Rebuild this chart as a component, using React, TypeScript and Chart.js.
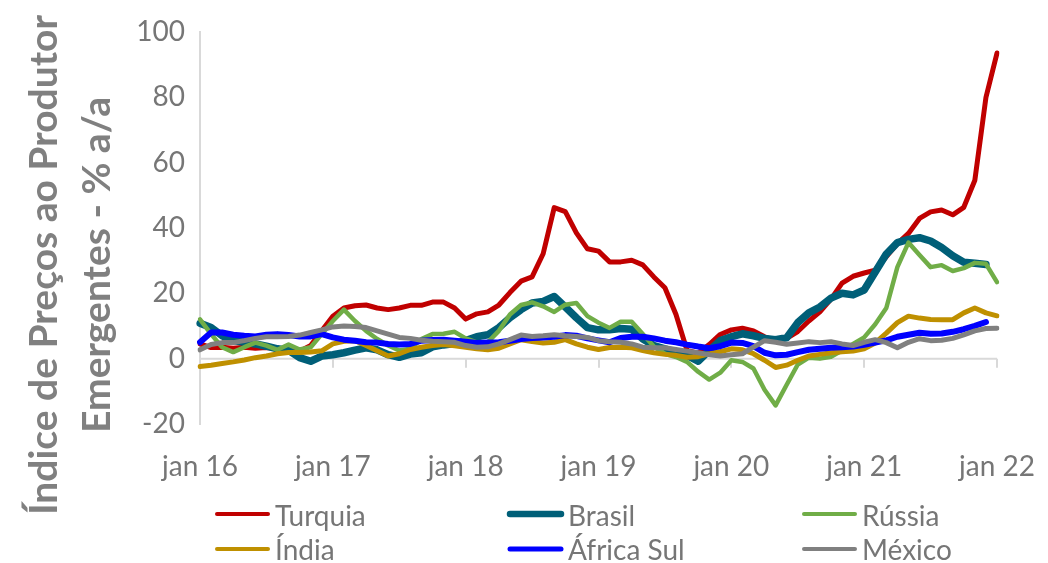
import React, { useEffect, useRef } from 'react';
import { Chart, registerables } from 'chart.js';

Chart.register(...registerables);

// ---------- data ----------
const yearSuffixes = ['16', '17', '18', '19', '20', '21', '22'];
const monthNames = ['jan', 'fev', 'mar', 'abr', 'mai', 'jun', 'jul', 'ago', 'set', 'out', 'nov', 'dez'];
const xTickLabels = ['jan 16', 'jan 17', 'jan 18', 'jan 19', 'jan 20', 'jan 21', 'jan 22'];
const yTickMin = -20;
const yTickMax = 100;
const yTickStep = 20;

const categories: string[] = [];
for (let y = 0; y < 6; y++) {
  for (let m = 0; m < 12; m++) categories.push(monthNames[m] + ' ' + yearSuffixes[y]);
}
categories.push('jan ' + yearSuffixes[6]);

const turquia = [
  4.5, 3.4, 3.5, 3.2, 3.5, 3.2, 3.4, 3.0, 2.6, 2.3, 4.0, 8.5,
  13.0, 15.5, 16.2, 16.4, 15.5, 15.0, 15.5, 16.3, 16.3, 17.3, 17.3, 15.5,
  12.1, 13.7, 14.3, 16.4, 20.2, 23.7, 25.0, 32.1, 46.2, 45.0, 38.5, 33.6,
  32.9, 29.6, 29.6, 30.1, 28.7, 25.0, 21.7, 13.5, 2.5, 1.7, 4.3, 7.4,
  8.8, 9.3, 8.5, 6.7, 5.5, 6.2, 8.3, 11.5, 14.3, 18.2, 23.1, 25.2,
  26.2, 27.1, 31.2, 35.2, 38.3, 42.9, 44.9, 45.5, 44.0, 46.3, 54.6, 79.9,
  93.5,
];

const brasil = [
  10.8, 9.5, 7.0, 5.5, 5.0, 4.5, 3.8, 3.0, 2.5, 0.3, -0.8, 0.8,
  1.2, 1.8, 2.6, 3.3, 2.7, 1.2, 0.4, 1.4, 1.8, 3.6, 4.2, 4.6,
  5.5, 6.7, 7.3, 9.5, 12.5, 15.0, 17.0, 17.5, 19.0, 15.8, 12.5, 9.5,
  8.8, 8.8, 9.2, 9.0, 6.0, 4.0, 3.0, 2.0, 1.0, -0.8, 2.5, 5.5,
  6.7, 7.6, 7.0, 6.2, 5.8, 6.4, 11.0, 14.0, 15.8, 18.5, 20.0, 19.5,
  21.0, 26.5, 32.0, 35.5, 36.5, 37.0, 36.0, 34.0, 31.5, 29.5, 29.2, 28.8,
];

const russia = [
  12.0, 7.5, 3.5, 2.0, 3.5, 4.9, 4.0, 2.7, 4.3, 2.8, 3.5, 7.5,
  11.5, 15.0, 11.5, 8.5, 6.0, 4.0, 2.5, 3.0, 6.0, 7.5, 7.6, 8.2,
  6.2, 5.0, 5.0, 8.5, 13.5, 16.4, 17.2, 16.0, 14.3, 16.5, 17.0, 13.0,
  11.0, 9.4, 11.3, 11.3, 7.5, 3.7, 1.5, 0.5, -1.0, -4.0, -6.4, -4.3,
  -0.5, -1.0, -3.0, -9.5, -14.3, -8.0, -1.8, 0.3, 0.0, 0.6, 2.5, 4.5,
  6.5, 10.5, 15.5, 28.0, 35.5, 31.7, 28.0, 28.6, 26.8, 27.7, 29.3, 29.0,
  23.4,
];

const india = [
  -2.4, -2.0, -1.5, -1.0, -0.4, 0.3, 0.8, 1.5, 1.9, 1.9, 2.0, 2.4,
  4.5, 5.3, 5.5, 4.0, 2.4, 0.8, 1.5, 2.8, 3.5, 4.0, 4.3, 3.9,
  3.5, 3.0, 2.7, 3.2, 4.5, 5.8, 5.2, 4.8, 5.0, 5.8, 4.5, 3.5,
  2.8, 3.4, 3.5, 3.3, 2.5, 1.8, 1.3, 1.0, 0.4, 0.6, 1.5, 2.1,
  3.0, 2.7, 1.5, -0.5, -2.7, -2.0, -0.5, 0.8, 1.3, 1.8, 2.1, 2.3,
  3.0, 4.8, 7.8, 11.0, 13.0, 12.4, 12.0, 11.9, 11.9, 14.0, 15.5, 14.0,
  13.1,
];

const africaSul = [
  5.0, 8.0, 8.0, 7.3, 7.0, 6.8, 7.3, 7.5, 7.2, 6.8, 6.8, 7.5,
  6.5, 5.8, 5.5, 5.0, 4.9, 4.5, 4.3, 4.5, 5.5, 5.7, 5.8, 5.5,
  5.2, 4.8, 4.9, 5.0, 5.5, 6.0, 6.3, 6.5, 6.7, 7.2, 7.0, 6.2,
  5.6, 5.0, 6.3, 6.7, 6.7, 6.2, 5.5, 5.0, 4.3, 3.7, 3.2, 3.8,
  4.9, 4.8, 3.8, 1.8, 1.0, 1.2, 2.0, 2.7, 3.0, 3.3, 3.5, 3.7,
  4.2, 4.9, 5.6, 6.7, 7.3, 7.9, 7.6, 7.7, 8.2, 9.0, 10.0, 11.2,
];

const mexico = [
  2.7, 4.3, 4.9, 4.9, 5.5, 6.2, 6.7, 6.7, 6.8, 7.2, 8.0, 8.8,
  9.7, 10.0, 9.8, 9.5, 8.5, 7.5, 6.5, 6.2, 5.6, 5.3, 5.2, 5.0,
  4.0, 3.5, 3.6, 4.5, 5.8, 7.2, 6.8, 7.0, 7.3, 7.0, 6.8, 6.5,
  5.5, 5.2, 5.0, 4.5, 3.5, 3.3, 3.3, 2.8, 2.3, 1.8, 1.2, 0.8,
  1.2, 1.5, 3.5, 5.5, 5.0, 4.4, 4.8, 5.2, 4.9, 5.2, 4.5, 4.0,
  5.0, 5.8, 4.9, 3.3, 5.0, 6.1, 5.5, 5.6, 6.2, 7.3, 8.5, 9.2,
  9.3,
];

const seriesNames = ['Turquia', 'Brasil', 'Rússia', 'Índia', 'África Sul', 'México'];
const seriesData = [turquia, brasil, russia, india, africaSul, mexico];
const seriesColors = ['#C00000', '#005F78', '#70AD47', '#BF9000', '#0000FF', '#808080'];
const seriesWidths = [5, 7.5, 4.5, 5, 6, 5];

const titleLines = ['Índice de Preços ao Produtor', 'Emergentes - % a/a'];

const FONT = 'Lato';
const TEXT_GRAY = '#767676';
const TITLE_GRAY = '#808080';
const AXIS_GRAY = '#d9d9d9';

const decorPlugin = {
  id: 'decor',
  beforeDatasetsDraw(chart: any) {
    const { ctx, chartArea, scales } = chart;
    const x = scales.x;
    const y = scales.y;
    const y0 = y.getPixelForValue(0);
    ctx.save();
    ctx.strokeStyle = AXIS_GRAY;
    ctx.lineWidth = 2;
    ctx.beginPath();
    ctx.moveTo(chartArea.left, y0);
    ctx.lineTo(chartArea.right, y0);
    for (let i = 0; i < categories.length; i += 12) {
      const px = Math.round(x.getPixelForValue(i));
      ctx.moveTo(px, y0);
      ctx.lineTo(px, y0 + 9);
    }
    ctx.stroke();
    ctx.restore();
  },
  afterDraw(chart: any) {
    const { ctx } = chart;
    ctx.save();
    // y-axis title (two rotated lines)
    ctx.fillStyle = TITLE_GRAY;
    ctx.font = `bold 39px ${FONT}`;
    ctx.textAlign = 'center';
    ctx.textBaseline = 'alphabetic';
    const baselines = [57, 110];
    titleLines.forEach((line, i) => {
      ctx.save();
      ctx.translate(baselines[i], 265);
      ctx.rotate(-Math.PI / 2);
      ctx.fillText(line, 0, 0);
      ctx.restore();
    });

    // legend: 3 columns x 2 rows
    const colX = [215, 508, 802];
    const rowLineY = [514, 549];
    const rowTextY = [526, 560];
    ctx.font = `28px ${FONT}`;
    ctx.textAlign = 'left';
    ctx.lineCap = 'round';
    seriesNames.forEach((name, i) => {
      const col = i % 3;
      const row = Math.floor(i / 3);
      ctx.strokeStyle = seriesColors[i];
      ctx.lineWidth = Math.max(4, seriesWidths[i] - 1);
      ctx.beginPath();
      ctx.moveTo(colX[col] + 2, rowLineY[row]);
      ctx.lineTo(colX[col] + 53, rowLineY[row]);
      ctx.stroke();
      ctx.fillStyle = TEXT_GRAY;
      ctx.fillText(name, colX[col] + 60, rowTextY[row]);
    });
    ctx.restore();
  },
};

export default function App() {
  const canvasRef = useRef<HTMLCanvasElement | null>(null);

  useEffect(() => {
    const canvas = canvasRef.current;
    if (!canvas) return;
    const chart = new Chart(canvas, {
      type: 'line',
      data: {
        labels: categories,
        datasets: seriesNames.map((name, i) => ({
          label: name,
          data: seriesData[i],
          borderColor: seriesColors[i],
          backgroundColor: seriesColors[i],
          borderWidth: seriesWidths[i],
          pointRadius: 0,
          pointHoverRadius: 0,
          tension: 0,
          borderJoinStyle: 'round' as const,
          borderCapStyle: 'round' as const,
          order: seriesNames.length - i,
          fill: false,
        })),
      },
      options: {
        responsive: false,
        animation: false,
        events: [],
        layout: { padding: { top: 30, right: 51, left: 0, bottom: 0 } },
        plugins: {
          legend: { display: false },
          tooltip: { enabled: false },
          title: { display: false },
        },
        scales: {
          x: {
            type: 'category',
            offset: false,
            grid: { display: false, drawTicks: false },
            border: { display: false },
            ticks: {
              autoSkip: false,
              maxRotation: 0,
              minRotation: 0,
              padding: 26,
              color: TEXT_GRAY,
              font: { family: FONT, size: 28 },
              callback: (_v: any, i: number) => (i % 12 === 0 ? xTickLabels[i / 12] : ''),
            },
            afterFit: (scale: any) => {
              scale.height = 139;
              scale.paddingLeft = 0;
              scale.paddingRight = 0;
            },
          },
          y: {
            min: yTickMin,
            max: yTickMax,
            grid: { display: false, drawTicks: false },
            border: { display: true, color: AXIS_GRAY, width: 2 },
            ticks: {
              stepSize: yTickStep,
              padding: 15,
              color: TEXT_GRAY,
              font: { family: FONT, size: 28 },
              callback: (v: any) => String(v),
            },
            afterFit: (scale: any) => {
              scale.width = 200;
            },
          },
        },
      },
      plugins: [decorPlugin],
    } as any);
    return () => chart.destroy();
  }, []);

  return (
    <div style={{ position: 'fixed', left: 0, top: 0, width: 1048, height: 563, background: '#ffffff' }}>
      <canvas ref={canvasRef} width={1048} height={563} style={{ display: 'block' }} />
    </div>
  );
}
